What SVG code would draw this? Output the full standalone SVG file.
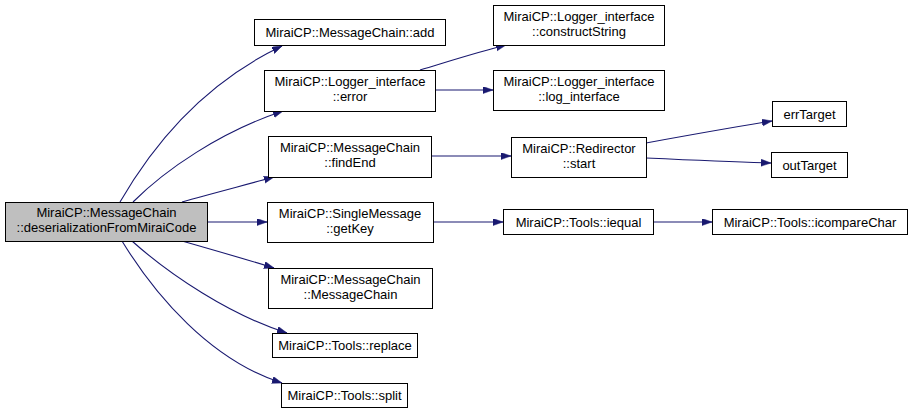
<svg xmlns="http://www.w3.org/2000/svg" width="912" height="415" viewBox="0 0 912 415">
<style>
  .bg { fill: #ffffff; }
  .node rect { fill: #ffffff; stroke: #000000; stroke-width: 1; }
  .node.main rect { fill: #bfbfbf; }
  .node text { font-family: "Liberation Sans", Arial, sans-serif; font-size: 13px; fill: #000000; text-anchor: middle; }
  .edges path { fill: none; stroke: #191970; stroke-width: 1.1; }
</style>
<defs>
  <marker id="arr" markerUnits="userSpaceOnUse" markerWidth="11" markerHeight="8" refX="10" refY="3.5" orient="auto">
    <path d="M0,0 L10,3.5 L0,7 z" fill="#191970" stroke="#191970" stroke-width="0.5"/>
  </marker>
</defs>
<rect class="bg" x="0" y="0" width="912" height="415"/>

<g id="edges" class="edges">
  <path marker-end="url(#arr)" d="M120,202 C150,150 200,85 282,46"/>
  <path marker-end="url(#arr)" d="M133,202 C165,170 220,132 283,111"/>
  <path marker-end="url(#arr)" d="M182,202 C210,194 245,185 274,177"/>
  <path marker-end="url(#arr)" d="M207,222 L267,222"/>
  <path marker-end="url(#arr)" d="M182,241 C210,249 245,259 274,268"/>
  <path marker-end="url(#arr)" d="M132,241 C170,275 230,315 287,333"/>
  <path marker-end="url(#arr)" d="M122,241 C155,295 210,360 282,383"/>
  <path marker-end="url(#arr)" d="M420,70 C450,61 478,52 506,45"/>
  <path marker-end="url(#arr)" d="M435,90 L493,90"/>
  <path marker-end="url(#arr)" d="M431,156 L511,156"/>
  <path marker-end="url(#arr)" d="M646,143 C690,135 735,127 772,121"/>
  <path marker-end="url(#arr)" d="M646,158 C690,160 735,162 771,163"/>
  <path marker-end="url(#arr)" d="M433,222 L503,222"/>
  <path marker-end="url(#arr)" d="M653,222 L712,222"/>
</g>

<g id="node_main" class="node main">
  <rect x="5.5" y="202.5" width="202" height="39"/>
  <text x="106.5" y="217">MiraiCP::MessageChain</text>
  <text x="106.5" y="232">::deserializationFromMiraiCode</text>
</g>
<g id="node_add" class="node">
  <rect x="254.5" y="19.5" width="191" height="26"/>
  <text x="350" y="37">MiraiCP::MessageChain::add</text>
</g>
<g id="node_error" class="node">
  <rect x="264.5" y="70.5" width="171" height="41"/>
  <text x="350" y="86">MiraiCP::Logger_interface</text>
  <text x="350" y="101">::error</text>
</g>
<g id="node_constructString" class="node">
  <rect x="493.5" y="5.5" width="171" height="40"/>
  <text x="579" y="21">MiraiCP::Logger_interface</text>
  <text x="579" y="36">::constructString</text>
</g>
<g id="node_log_interface" class="node">
  <rect x="493.5" y="70.5" width="171" height="40"/>
  <text x="579" y="86">MiraiCP::Logger_interface</text>
  <text x="579" y="101">::log_interface</text>
</g>
<g id="node_findEnd" class="node">
  <rect x="268.5" y="136.5" width="163" height="41"/>
  <text x="350" y="152">MiraiCP::MessageChain</text>
  <text x="350" y="167">::findEnd</text>
</g>
<g id="node_start" class="node">
  <rect x="511.5" y="137.5" width="135" height="40"/>
  <text x="579" y="153">MiraiCP::Redirector</text>
  <text x="579" y="168">::start</text>
</g>
<g id="node_getKey" class="node">
  <rect x="267.5" y="202.5" width="166" height="40"/>
  <text x="350" y="218">MiraiCP::SingleMessage</text>
  <text x="350" y="233">::getKey</text>
</g>
<g id="node_iequal" class="node">
  <rect x="503.5" y="209.5" width="150" height="25"/>
  <text x="578.5" y="226.5">MiraiCP::Tools::iequal</text>
</g>
<g id="node_errTarget" class="node">
  <rect x="772.5" y="101.5" width="74" height="25"/>
  <text x="809.5" y="118.5">errTarget</text>
</g>
<g id="node_outTarget" class="node">
  <rect x="771.5" y="152.5" width="76" height="25"/>
  <text x="809.5" y="169.5">outTarget</text>
</g>
<g id="node_icompareChar" class="node">
  <rect x="712.5" y="209.5" width="195" height="25"/>
  <text x="810" y="226.5">MiraiCP::Tools::icompareChar</text>
</g>
<g id="node_MessageChain" class="node">
  <rect x="268.5" y="268.5" width="164" height="40"/>
  <text x="350.5" y="284">MiraiCP::MessageChain</text>
  <text x="350.5" y="299">::MessageChain</text>
</g>
<g id="node_replace" class="node">
  <rect x="272.5" y="333.5" width="145" height="24"/>
  <text x="345" y="350">MiraiCP::Tools::replace</text>
</g>
<g id="node_split" class="node">
  <rect x="281.5" y="383.5" width="126" height="24"/>
  <text x="344.5" y="400">MiraiCP::Tools::split</text>
</g>
</svg>
